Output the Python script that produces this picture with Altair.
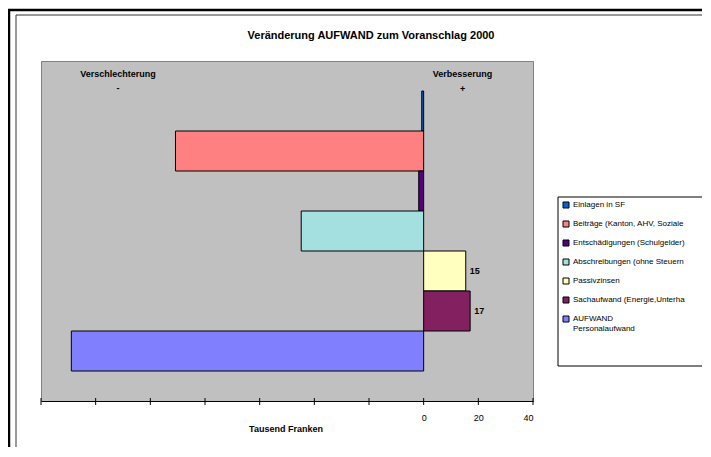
import altair as alt
import pandas as pd

# ---- data ----
categories = [
    "Einlagen in SF",
    "Beiträge (Kanton, AHV, Soziale",
    "Entschädigungen (Schulgelder)",
    "Abschreibungen (ohne Steuern",
    "Passivzinsen",
    "Sachaufwand (Energie,Unterha",
    "AUFWAND|Personalaufwand",
]
values = [-0.7, -90.8, -1.8, -44.8, 15.4, 17.0, -128.9]
value_labels = ["", "", "", "", "15", "17", ""]
colors = ["#0066CC", "#FF8080", "#55007F", "#A4E0E0", "#FFFFC0", "#832060", "#8080FF"]
tick_values = [-140, -120, -100, -80, -60, -40, -20, 0, 20, 40]

title_text = "Veränderung AUFWAND zum Voranschlag 2000"
axis_title = "Tausend Franken"

FONT = "Liberation Sans"

df = pd.DataFrame({"cat": categories, "val": values, "lab": value_labels})
ticks_df = pd.DataFrame({"t": tick_values})
one = pd.DataFrame({"a": [0]})

W, H = 492, 340

x_scale = alt.Scale(domain=[-140, 40], nice=False, zero=False)
y_scale = alt.Scale(domain=categories, paddingInner=0, paddingOuter=0.75)

base = alt.Chart(df)

# frames around the chart area
frames = alt.layer(
    alt.Chart(one).mark_rule(color="#000000", strokeWidth=2.5).encode(
        x=alt.value(-38), x2=alt.value(700), y=alt.value(-51)),
    alt.Chart(one).mark_rule(color="#000000", strokeWidth=2.5).encode(
        x=alt.value(-32), y=alt.value(-51), y2=alt.value(400)),
    alt.Chart(one).mark_rule(color="#333333", strokeWidth=1).encode(
        x=alt.value(-25), x2=alt.value(700), y=alt.value(-46)),
    alt.Chart(one).mark_rule(color="#333333", strokeWidth=1).encode(
        x=alt.value(-25), y=alt.value(-46), y2=alt.value(400)),
)

legend_box = alt.Chart(one).mark_rect(fill="white", stroke="#000000", strokeWidth=1).encode(
    x=alt.value(517), x2=alt.value(720), y=alt.value(136), y2=alt.value(305))

bars = base.mark_bar(stroke="#000000", strokeWidth=1).encode(
    x=alt.X("val:Q", scale=x_scale,
            axis=alt.Axis(values=tick_values, ticks=False, grid=False, domain=True,
                          domainColor="#000000", domainWidth=1,
                          labelExpr="datum.value >= 0 ? datum.label : ''",
                          labelFont=FONT, labelFontSize=9, labelColor="#000000",
                          labelPadding=12, title=None)),
    y=alt.Y("cat:N", scale=y_scale, axis=None, sort=categories),
    color=alt.Color("cat:N", sort=categories,
                    scale=alt.Scale(domain=categories, range=colors),
                    legend=alt.Legend(orient="none", legendX=521, legendY=140, title=None,
                                      symbolType="square", symbolSize=36,
                                      symbolStrokeColor="#000000", symbolStrokeWidth=1,
                                      labelFont=FONT, labelFontSize=8, labelColor="#000000",
                                      labelExpr="split(datum.label, '|')",
                                      labelLimit=300, labelOffset=3, rowPadding=9,
                                      padding=0)),
)

labels = base.mark_text(align="left", baseline="middle", dx=4, font=FONT,
                        fontSize=9, fontWeight="bold", color="#000000").encode(
    x=alt.X("val:Q", scale=x_scale),
    y=alt.Y("cat:N", scale=y_scale, sort=categories),
    text="lab:N",
)

tick_marks = alt.Chart(ticks_df).mark_rule(color="#000000", strokeWidth=1).encode(
    x=alt.X("t:Q", scale=x_scale), y=alt.value(H - 3), y2=alt.value(H + 4))


def txt(s, x, y, size=9, weight="bold", align="center"):
    return alt.Chart(one).mark_text(text=s, font=FONT, fontSize=size, fontWeight=weight,
                                    align=align, baseline="alphabetic",
                                    color="#000000").encode(x=alt.value(x), y=alt.value(y))


annotations = alt.layer(
    txt(title_text, 330, -22, size=11),
    txt("Verschlechterung", 77, 16, size=9),
    txt("-", 77, 30, size=9),
    txt("Verbesserung", 421.5, 16, size=9),
    txt("+", 421.7, 31, size=9),
    txt(axis_title, 245, 371, size=9),
)

chart = alt.layer(frames, legend_box, bars, labels, tick_marks, annotations).properties(
    width=W, height=H,
    autosize=alt.AutoSizeParams(type="none"),
    padding={"left": 33, "top": 53, "right": 169, "bottom": 46},
    background="white",
).configure_view(
    fill="#C0C0C0", stroke="#808080", strokeWidth=1
)

chart.save("out.html", embed_options={"renderer": "svg", "actions": False})
